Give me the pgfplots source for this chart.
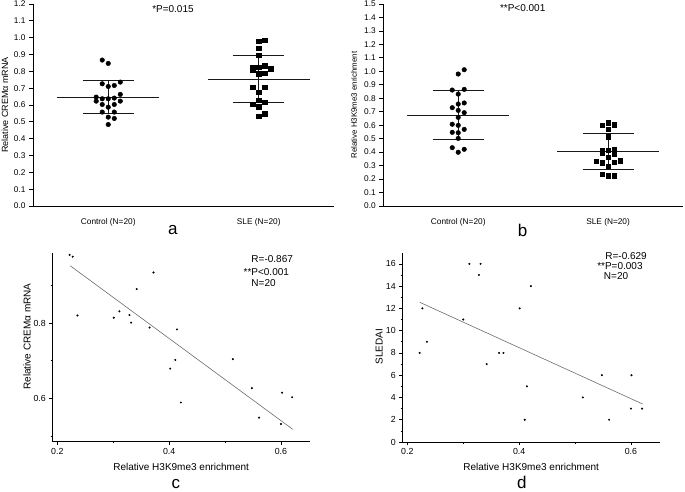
\documentclass[border=0pt]{standalone}
\usepackage{fontspec}
\setmainfont{Liberation Sans}
\usepackage{pgfplots}
\pgfplotsset{compat=1.18}
\newcommand{\fs}[1]{\fontsize{#1bp}{#1bp}\selectfont}
\pgfplotsset{
 dotaxis/.style={scale only axis, axis lines*=left, clip=false,
   xmin=0.5, xmax=2.5, ymin=0,
   xtick={1,2}, xticklabels={Control (N=20),SLE (N=20)},
   every x tick/.append style={draw=none},
   every y tick/.append style={black, line width=0.8bp},
   tick align=outside, major tick length=4bp,
   axis line style={line width=0.9bp},
   tick label style={font=\fs{8.3}},
   xticklabel style={yshift=-5bp},
   label style={font=\fs{9}},
   /pgf/number format/assume math mode=true,
   yticklabel style={/pgf/number format/.cd, fixed, fixed zerofill, precision=1}},
 scataxis/.style={scale only axis, axis lines*=left, clip=false,
   xmin=0.191, xmax=0.652,
   xtick={0.2,0.4,0.6}, minor xtick={0.3,0.5},
   tick align=outside, major tick length=3bp, minor tick length=1.6bp,
   every tick/.append style={black, line width=0.6bp},
   axis line style={line width=0.7bp},
   tick label style={font=\fs{8.8}},
   label style={font=\fs{10}},
   /pgf/number format/assume math mode=true,
   xticklabel style={/pgf/number format/.cd, fixed, fixed zerofill, precision=1},
   xlabel={Relative H3K9me3 enrichment}},
 meanline/.style={black!90, line width=0.9bp},
 regline/.style={gray!85!black, line width=0.6bp},
}
\begin{document}
\begin{tikzpicture}
\useasboundingbox (0,0) rectangle (685bp,492bp);
% ---------------- panel a
\begin{axis}[dotaxis, at={(33bp,286bp)}, anchor=south west,
  width=301bp, height=202bp, ymax=1.2, ytick={0,0.1,...,1.2},
  ylabel={Relative CREMα mRNA},
  ylabel style={at={(axis description cs:-0.093,0.5)}, anchor=center}]
\addplot[only marks, mark=*, mark size=2.3bp, black] coordinates {
(0.96,0.867) (1.00,0.847) (0.96,0.726) (1.00,0.710) (1.04,0.716) (1.08,0.736)
(1.08,0.663) (0.92,0.647) (0.92,0.623) (0.96,0.637) (1.00,0.637) (1.04,0.641)
(1.08,0.623) (0.96,0.603) (1.04,0.603) (1.00,0.587) (0.96,0.558) (1.04,0.558)
(1.00,0.528) (1.04,0.520) (1.00,0.484)};
\addplot[only marks, mark=square*, mark size=2.2bp, black] coordinates {
(2.00,0.978) (2.04,0.985) (2.00,0.938) (2.00,0.895) (1.96,0.826) (2.00,0.826)
(2.04,0.833) (2.08,0.815) (1.96,0.810) (2.00,0.786) (2.04,0.790) (1.96,0.704)
(2.04,0.704) (2.00,0.677) (2.00,0.627) (1.96,0.603) (2.04,0.615) (2.00,0.589)
(2.00,0.532) (2.04,0.548)};
\addplot[meanline] coordinates {(0.66,0.647) (1.34,0.647)};
\addplot[meanline] coordinates {(0.83,0.746) (1.17,0.746)};
\addplot[meanline] coordinates {(0.83,0.549) (1.17,0.549)};
\addplot[meanline] coordinates {(1.00,0.549) (1.00,0.746)};
\addplot[meanline] coordinates {(1.66,0.752) (2.34,0.752)};
\addplot[meanline] coordinates {(1.83,0.893) (2.17,0.893)};
\addplot[meanline] coordinates {(1.83,0.613) (2.17,0.613)};
\addplot[meanline] coordinates {(2.00,0.613) (2.00,0.893)};
\node[font=\fs{10}] at (axis cs:1.43,1.17) {*P=0.015};
\node[font=\fs{17}] at (axis description cs:0.465,-0.119) {a};
\end{axis}
% ---------------- panel b
\begin{axis}[dotaxis, at={(383.3bp,286bp)}, anchor=south west,
  width=299.7bp, height=202bp, ymax=1.5, ytick={0,0.1,...,1.5},
  ylabel={Relative H3K9me3 enrichment},
  label style={font=\fs{7.9}},
  ylabel style={at={(axis description cs:-0.098,0.5)}, anchor=center}]
\addplot[only marks, mark=*, mark size=2.3bp, black] coordinates {
(1.04,1.012) (1.00,0.980) (0.96,0.861) (1.04,0.866) (1.00,0.831) (1.00,0.757)
(1.04,0.765) (0.96,0.730) (1.00,0.710) (1.04,0.693) (1.00,0.658) (0.96,0.607)
(1.00,0.599) (1.04,0.569) (0.96,0.547) (1.00,0.544) (1.00,0.502) (0.96,0.433)
(1.04,0.421) (1.00,0.399)};
\addplot[only marks, mark=square*, mark size=2.2bp, black] coordinates {
(1.96,0.601) (2.00,0.619) (2.04,0.604) (2.00,0.572) (2.00,0.515) (1.96,0.411)
(2.00,0.416) (2.04,0.418) (1.96,0.391) (2.04,0.388) (2.00,0.364) (1.92,0.332)
(1.96,0.322) (2.04,0.324) (2.08,0.336) (2.00,0.297) (1.96,0.235) (2.00,0.225)
(2.04,0.225)};
\addplot[meanline] coordinates {(0.66,0.676) (1.34,0.676)};
\addplot[meanline] coordinates {(0.83,0.856) (1.17,0.856)};
\addplot[meanline] coordinates {(0.83,0.497) (1.17,0.497)};
\addplot[meanline] coordinates {(1.00,0.497) (1.00,0.856)};
\addplot[meanline] coordinates {(1.66,0.403) (2.34,0.403)};
\addplot[meanline] coordinates {(1.83,0.535) (2.17,0.535)};
\addplot[meanline] coordinates {(1.83,0.275) (2.17,0.275)};
\addplot[meanline] coordinates {(2.00,0.275) (2.00,0.535)};
\node[font=\fs{10}] at (axis cs:1.43,1.47) {**P<0.001};
\node[font=\fs{17}] at (axis description cs:0.465,-0.119) {b};
\end{axis}
% ---------------- panel c
\begin{axis}[scataxis, at={(52.3bp,50.3bp)}, anchor=south west,
  width=257.7bp, height=188.4bp, ymin=0.485, ymax=0.985,
  ytick={0.6,0.8}, minor ytick={0.5,0.7,0.9},
  yticklabel style={/pgf/number format/.cd, fixed, fixed zerofill, precision=1},
  ylabel={Relative CREMα mRNA},
  ylabel style={at={(axis description cs:-0.098,0.558)}, anchor=center},
  xlabel style={at={(axis description cs:0.5,-0.134)}, anchor=center}]
\addplot[only marks, mark=*, mark size=0.8bp, black] coordinates {
(0.222,0.981) (0.2275,0.976) (0.236,0.820) (0.301,0.814) (0.311,0.831)
(0.329,0.821) (0.332,0.801) (0.342,0.890) (0.365,0.788) (0.372,0.934)
(0.414,0.783) (0.411,0.702) (0.402,0.679) (0.514,0.704) (0.421,0.589)
(0.548,0.627) (0.561,0.549) (0.602,0.615) (0.600,0.532) (0.620,0.603)};
\addplot[regline] coordinates {(0.223,0.952) (0.621,0.518)};
\node[font=\fs{10}, anchor=west] at (axis cs:0.541,0.970) {R=-0.867};
\node[font=\fs{10}, anchor=west] at (axis cs:0.527,0.935) {**P<0.001};
\node[font=\fs{10}, anchor=west] at (axis cs:0.541,0.906) {N=20};
\node[font=\fs{17}] at (axis description cs:0.48,-0.222) {c};
\end{axis}
% ---------------- panel d
\begin{axis}[scataxis, at={(402.3bp,50bp)}, anchor=south west,
  width=257.7bp, height=189.3bp, ymin=0, ymax=17,
  ytick={0,2,...,16}, minor ytick={1,3,...,15},
  ylabel={SLEDAI},
  ylabel style={at={(axis description cs:-0.09,0.504)}, anchor=center},
  xlabel style={at={(axis description cs:0.5,-0.132)}, anchor=center}]
\addplot[only marks, mark=*, mark size=0.8bp, black] coordinates {
(0.311,16) (0.331,16) (0.328,15) (0.421,14) (0.227,12) (0.401,12) (0.300,11)
(0.235,9) (0.222,8) (0.364,8) (0.372,8) (0.342,7) (0.548,6) (0.601,6)
(0.414,5) (0.514,4) (0.410,2) (0.561,2) (0.600,3) (0.620,3)};
\addplot[regline] coordinates {(0.222,12.55) (0.621,3.41)};
\node[font=\fs{10}, anchor=west] at (axis cs:0.548,16.7) {R=-0.629};
\node[font=\fs{10}, anchor=west] at (axis cs:0.5335,15.8) {**P=0.003};
\node[font=\fs{10}, anchor=west] at (axis cs:0.5455,14.9) {N=20};
\node[font=\fs{17}] at (axis description cs:0.464,-0.215) {d};
\end{axis}
\end{tikzpicture}
\end{document}
